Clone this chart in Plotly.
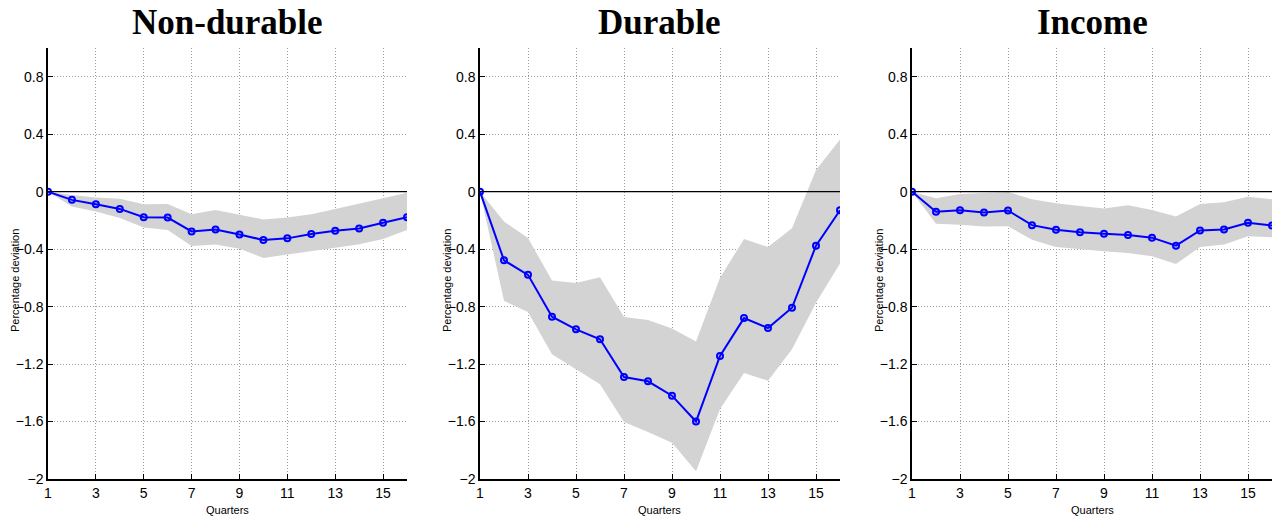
import plotly.graph_objects as go

quarters = list(range(1, 17))
titles = ["Non-durable", "Durable", "Income"]

nondur_irf = [0, -0.057, -0.088, -0.12, -0.178, -0.18, -0.277, -0.263, -0.298, -0.337, -0.325, -0.295, -0.272, -0.256, -0.217, -0.178]
nondur_up = [0, -0.023, -0.04, -0.05, -0.088, -0.085, -0.157, -0.127, -0.16, -0.194, -0.18, -0.157, -0.12, -0.085, -0.046, -0.008]
nondur_lo = [0, -0.104, -0.138, -0.184, -0.249, -0.267, -0.378, -0.367, -0.397, -0.461, -0.44, -0.415, -0.39, -0.366, -0.33, -0.267]

dur_irf = [0, -0.478, -0.579, -0.87, -0.958, -1.027, -1.29, -1.32, -1.42, -1.6, -1.143, -0.88, -0.949, -0.808, -0.376, -0.129]
dur_up = [0, -0.208, -0.323, -0.618, -0.635, -0.595, -0.872, -0.893, -0.953, -1.043, -0.6, -0.33, -0.385, -0.254, 0.15, 0.363]
dur_lo = [0, -0.76, -0.838, -1.131, -1.235, -1.34, -1.604, -1.673, -1.747, -1.946, -1.512, -1.263, -1.316, -1.096, -0.773, -0.5]

inc_irf = [0, -0.14, -0.129, -0.145, -0.131, -0.233, -0.265, -0.283, -0.293, -0.302, -0.32, -0.376, -0.27, -0.263, -0.217, -0.235]
inc_up = [0, -0.046, -0.016, -0.011, -0.002, -0.053, -0.081, -0.099, -0.117, -0.094, -0.127, -0.173, -0.085, -0.074, -0.035, -0.053]
inc_lo = [0, -0.224, -0.23, -0.242, -0.24, -0.334, -0.386, -0.403, -0.415, -0.427, -0.45, -0.503, -0.386, -0.367, -0.311, -0.318]

x_ticks = [1, 3, 5, 7, 9, 11, 13, 15]
y_ticks = [-2, -1.6, -1.2, -0.8, -0.4, 0, 0.4, 0.8]
y_ticktext = ["\u22122", "\u22121.6", "\u22121.2", "\u22120.8", "\u22120.4", "0", "0.4", "0.8"]

series = [(nondur_irf, nondur_up, nondur_lo), (dur_irf, dur_up, dur_lo), (inc_irf, inc_up, inc_lo)]

W, H = 1285, 519
px_domains = [(48, 407), (480, 840), (912, 1272)]
y_top, y_bot = 48, 479
ydom = [(H - y_bot) / H, (H - y_top) / H]

fig = go.Figure()
tick_font = dict(family="Liberation Sans Narrow, Liberation Sans, Arial", size=14, color="black")
grid = dict(showgrid=True, gridcolor="#9c9c9c", griddash="1px,2px", gridwidth=1)

for i, (irf, up, lo) in enumerate(series):
    ax = "" if i == 0 else str(i + 1)
    xa, ya = "x" + ax, "y" + ax
    fig.add_trace(go.Scatter(
        x=quarters + quarters[::-1], y=up + lo[::-1], fill="toself",
        fillcolor="#d3d3d3", line=dict(width=0), mode="lines",
        hoverinfo="skip", showlegend=False, xaxis=xa, yaxis=ya))
    fig.add_trace(go.Scatter(
        x=[quarters[0], quarters[-1]], y=[0, 0], mode="lines",
        line=dict(color="black", width=1.2), showlegend=False, xaxis=xa, yaxis=ya))
    fig.add_trace(go.Scatter(
        x=quarters, y=irf, mode="lines+markers",
        line=dict(color="#0000ff", width=2),
        marker=dict(symbol="circle-open", size=6, color="#0000ff", line=dict(width=2)),
        showlegend=False, xaxis=xa, yaxis=ya))
    d = px_domains[i]
    xkey = "xaxis" + ax
    ykey = "yaxis" + ax
    fig.layout[xkey] = dict(
        domain=[d[0] / W, d[1] / W], range=[1, 16], tickvals=x_ticks, **grid,
        showline=True, linecolor="black", linewidth=1.5,
        ticks="inside", ticklen=5, tickcolor="black", tickfont=tick_font,
        zeroline=False, anchor=ya, fixedrange=True, automargin=False)
    fig.layout[ykey] = dict(
        domain=ydom, range=[-2, 1], tickvals=y_ticks, ticktext=y_ticktext, **grid,
        showline=True, linecolor="black", linewidth=1.5,
        ticks="inside", ticklen=5, tickcolor="black", tickfont=tick_font,
        zeroline=False, anchor=xa, fixedrange=True, automargin=False)
    fig.add_annotation(text="<b>" + titles[i] + "</b>", x=(d[0] + d[1]) / 2 / W, y=1 - 23 / H,
                       xref="paper", yref="paper", showarrow=False, xanchor="center", yanchor="middle",
                       font=dict(family="Liberation Serif, DejaVu Serif, serif", size=35, color="black"))
    fig.add_annotation(text="Quarters", x=(d[0] + d[1]) / 2 / W, y=1 - 510 / H,
                       xref="paper", yref="paper", showarrow=False, xanchor="center", yanchor="middle",
                       font=dict(family="Liberation Sans Narrow, Liberation Sans, Arial", size=11, color="black"))
    fig.add_annotation(text="Percentage deviation", x=(d[0] - 33) / W, y=1 - 281 / H,
                       xref="paper", yref="paper", showarrow=False, textangle=-90,
                       xanchor="center", yanchor="middle",
                       font=dict(family="Liberation Sans, Arial", size=11, color="black"))

fig.update_layout(width=W, height=H, margin=dict(l=0, r=0, t=0, b=0, autoexpand=False),
                  paper_bgcolor="white", plot_bgcolor="white", showlegend=False)
fig.write_html("out.html")
